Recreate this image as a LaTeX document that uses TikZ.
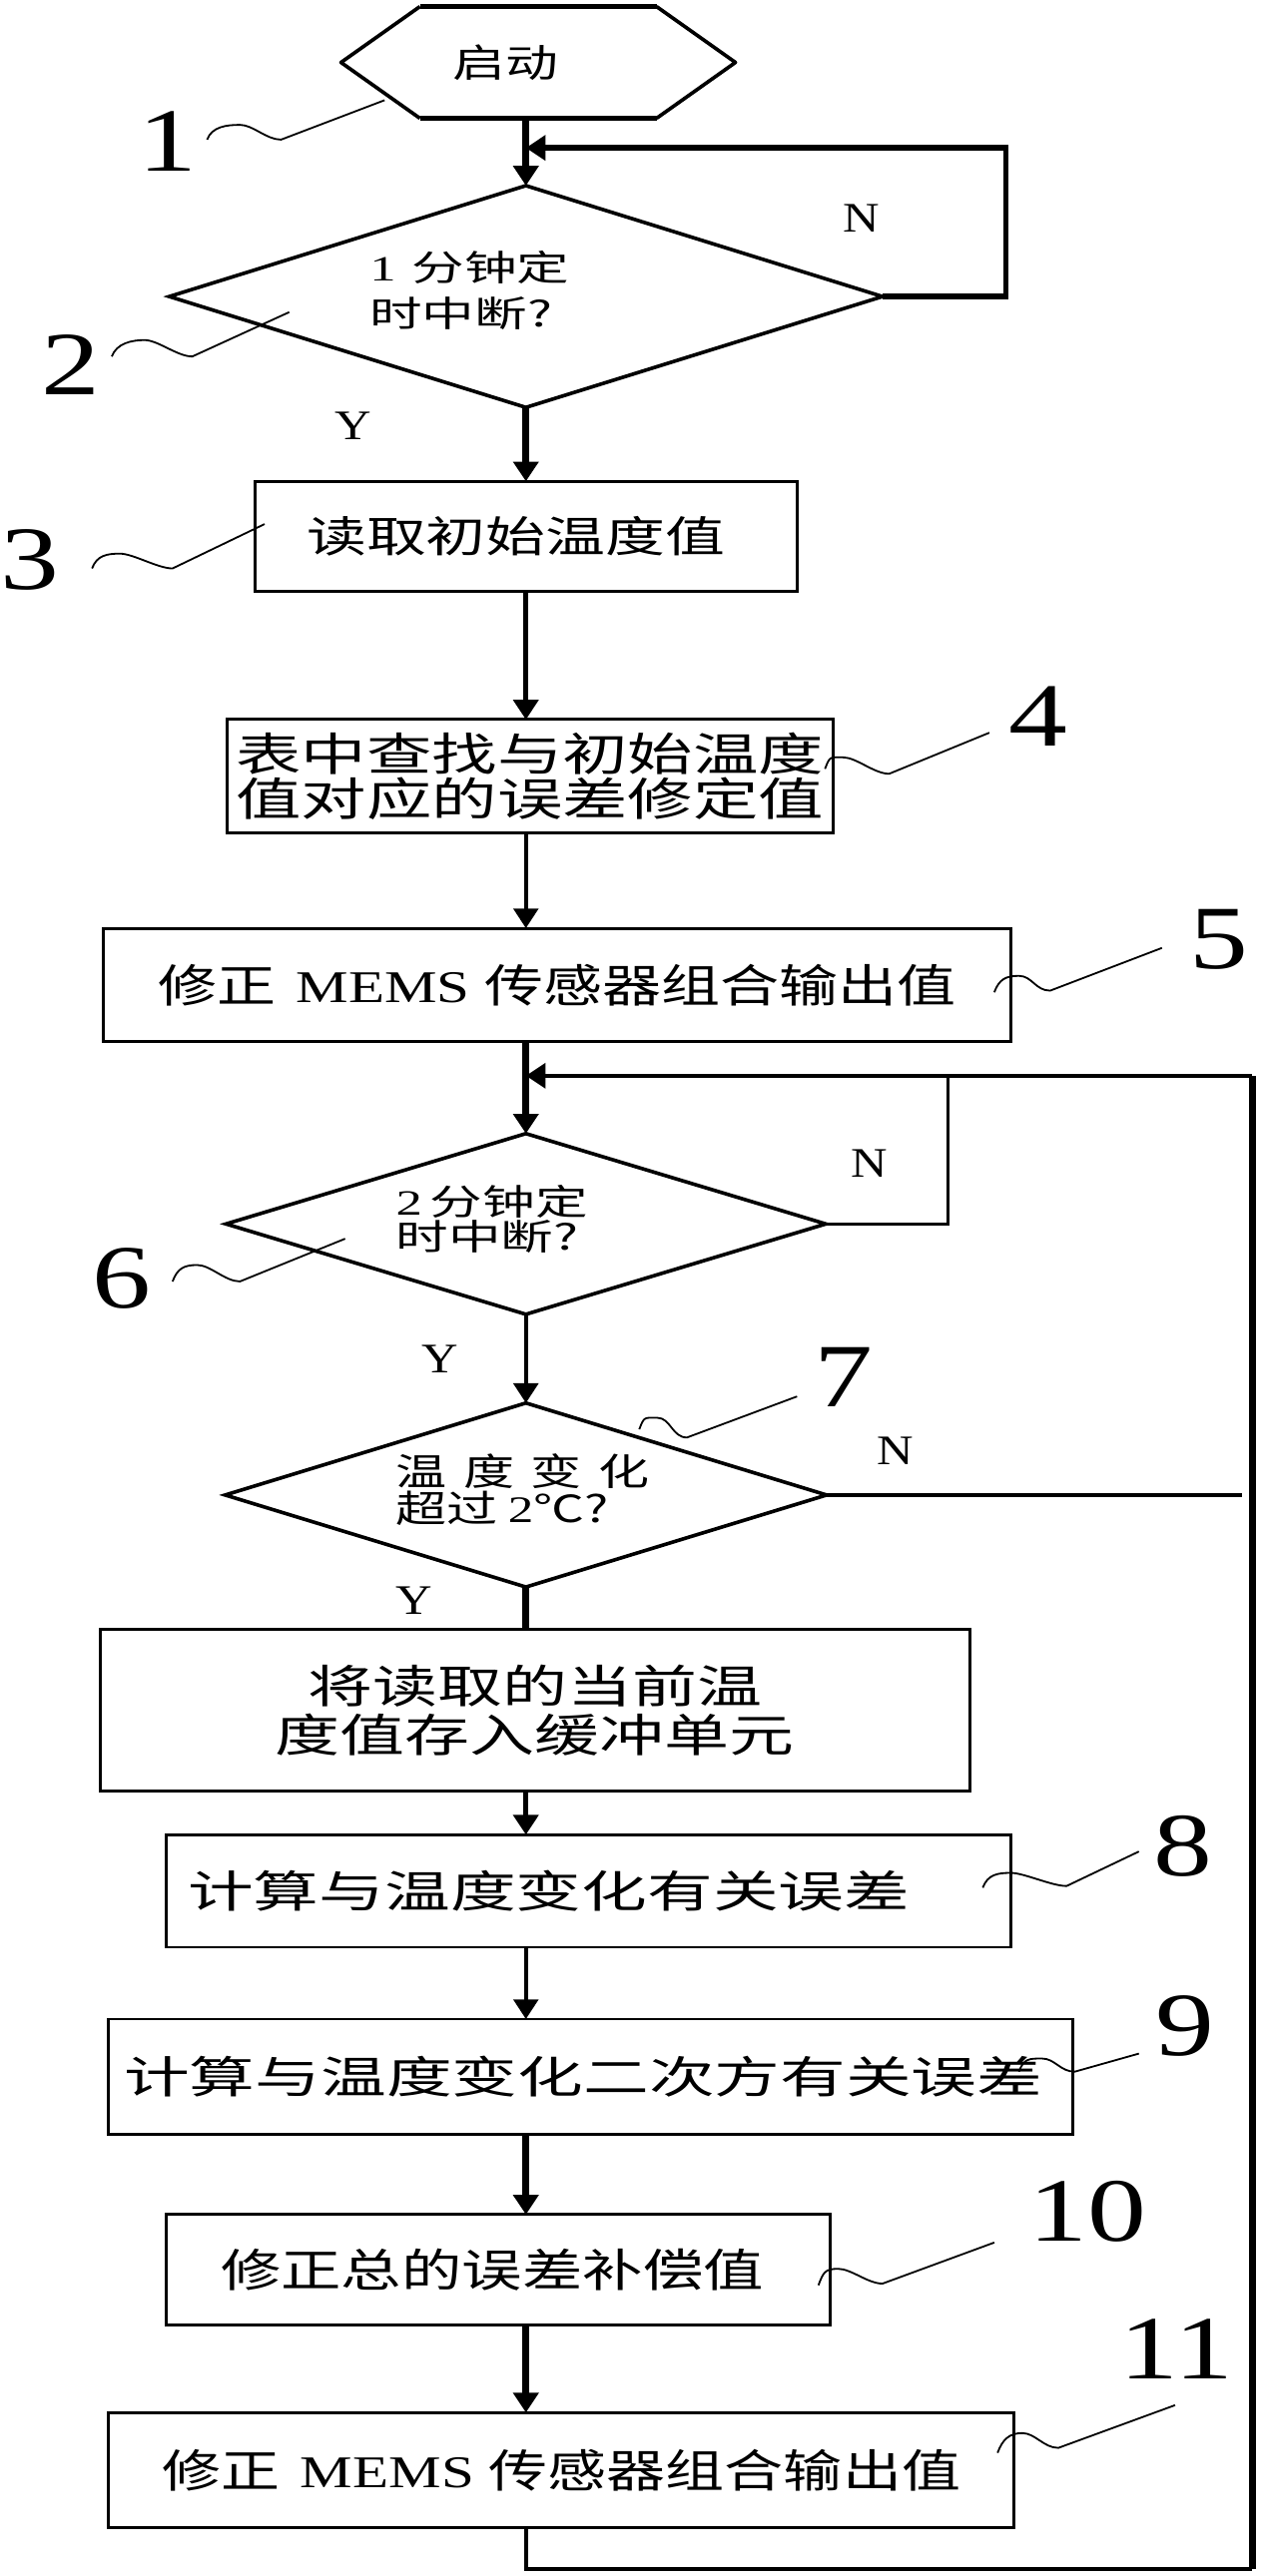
\documentclass[tikz,border=0pt]{standalone}
\usepackage{graphicx}
\usepackage{fontspec}
\setmainfont{Liberation Serif}
\newfontfamily\cjk{Noto Sans CJK SC}
\usetikzlibrary{arrows.meta,shapes.geometric,calc}
\newcommand\W[2]{\scalebox{#1}[1]{#2}}
\newcommand\tightlines{\lineskiplimit=-50pt\relax\lineskip=0pt\relax}
\newcommand\squig[5]{%
  \coordinate (#1a) at (#2);\coordinate (#1b) at (#5);%
  \draw[leader] (#1a) .. controls +(3,-8) and +(-8,0) .. (#3) .. controls +(8,0) and +(-9,0) .. (#4) -- (#1b);}
\begin{document}
\begin{tikzpicture}[x=0.5pt,y=-0.5pt,>={Triangle[length=6pt,width=7.5pt]},
  bx/.style={draw,line width=0.9pt,inner sep=0pt,outer sep=0pt},
  dia/.style={draw,diamond,line width=1.1pt,inner sep=0pt,outer sep=0pt},
  ttl/.style={inner sep=0pt,outer sep=0pt,anchor=west,align=left},
  lbl/.style={font=\rmfamily\fontsize{12.8}{14}\selectfont,inner sep=0pt},
  num/.style={font=\rmfamily\fontsize{27.5}{30}\selectfont,inner sep=0pt},
  leader/.style={line width=0.55pt},
  wA/.style={line width=2.2pt},
  wB/.style={line width=1.4pt},
  wC/.style={line width=1.1pt}]
\useasboundingbox (0,0) rectangle (767,1568);

% column and junctions
\coordinate (col) at (320,0);
\coordinate (j1) at (320,90);
\coordinate (l1) at (612,90);
\coordinate (j2) at (320,654.8);
\coordinate (ur) at (762,654.8);
\coordinate (lr) at (762,1564);
\coordinate (n2c) at (577,654.8);
\coordinate (n3e) at (756,910);

% start hexagon
\node[minimum width=120pt,minimum height=34pt,inner sep=0pt,outer sep=0pt,font=\cjk\fontsize{11.8}{14}\selectfont] (start) at (327.5,38) {\hspace*{-20pt}\W{1.36}{启动}};
\draw[line width=1.1pt,line join=round] ($(start.north west)+(48,0)$) -- (start.west) -- ($(start.south west)+(48,0)$);
\draw[line width=1.1pt,line join=round] ($(start.north east)+(-48,0)$) -- (start.east) -- ($(start.south east)+(-48,0)$);
\draw[line width=1.7pt] ($(start.north west)+(48,0)$) -- ($(start.north east)+(-48,0)$);
\draw[line width=1.7pt] ($(start.south west)+(48,0)$) -- ($(start.south east)+(-48,0)$);

% decisions
\node[dia,minimum width=217pt,minimum height=67.5pt] (d1) at (320,180.5) {};
\node[dia,minimum width=182.5pt,minimum height=55pt] (d2) at (320,745) {};
\node[dia,minimum width=183pt,minimum height=56pt] (d3) at (320,910) {};
\node[ttl,font=\cjk\fontsize{10.8}{14}\selectfont] (d1t) at (225,177) {\W{1.48}{{\rmfamily 1}\hspace{0.3em}分钟定}\\\W{1.48}{时中断?}};
\node[ttl,font=\cjk\fontsize{10.8}{10.6}\selectfont\tightlines] (d2t) at (241,742) {\W{1.48}{{\rmfamily 2}\hspace{0.15em}分钟定}\\\W{1.48}{时中断?}};
\node[ttl,font=\cjk\fontsize{11.4}{11.2}\selectfont\tightlines] (d3t) at (241,906.5) {\W{1.36}{温\hspace{3.7pt}度\hspace{3.7pt}变\hspace{3.7pt}化}\\\W{1.36}{超过\hspace{0.2em}{\rmfamily 2}℃?}};

% process boxes
\node[bx,minimum width=165pt,minimum height=33.5pt,font=\cjk\fontsize{13}{15}\selectfont] (b3) at (320,326.5) {\hspace*{-6pt}\W{1.4}{读取初始温度值}};
\node[bx,align=center,minimum width=184.5pt,minimum height=34.5pt,font=\cjk\fontsize{13.8}{13.9}\selectfont] (b4) at (322.5,472.5) {\W{1.44}{表中查找与初始温度}\\\W{1.44}{值对应的误差修定值}};
\node[bx,minimum width=276pt,minimum height=34.5pt,font=\cjk\fontsize{13.8}{16}\selectfont] (b5) at (339,599.5) {\W{1.3}{修正\hspace{0.35em}{\rmfamily MEMS}\hspace{0.25em}传感器组合输出值}};
\node[bx,align=center,minimum width=264.5pt,minimum height=49pt,font=\cjk\fontsize{13.8}{15}\selectfont] (b6) at (325.5,1041) {\W{1.43}{将读取的当前温}\\\W{1.43}{度值存入缓冲单元}};
\node[bx,minimum width=257pt,minimum height=34.25pt,font=\cjk\fontsize{13.4}{15}\selectfont] (b8) at (358,1151) {\hspace*{-24pt}\W{1.49}{计算与温度变化有关误差}};
\node[bx,minimum width=293.5pt,minimum height=35pt,font=\cjk\fontsize{13.4}{15}\selectfont] (b9) at (359.5,1264) {\hspace*{-4.5pt}\W{1.49}{计算与温度变化二次方有关误差}};
\node[bx,minimum width=202pt,minimum height=33.5pt,font=\cjk\fontsize{13.8}{15}\selectfont] (b10) at (303,1381.5) {\hspace*{-3.5pt}\W{1.33}{修正总的误差补偿值}};
\node[bx,minimum width=275.5pt,minimum height=35pt,font=\cjk\fontsize{13.8}{16}\selectfont] (b11) at (341.5,1503.5) {\W{1.3}{修正\hspace{0.35em}{\rmfamily MEMS}\hspace{0.25em}传感器组合输出值}};

% connectors
\draw[wA,->] (start.south -| col) -- (d1.north);
\draw[line width=1.7pt,->] (d1.east) -| (l1) -- (j1);
\draw[wA,->] (d1.south) -- (b3.north -| col);
\draw[wB,->] (b3.south -| col) -- (b4.north -| col);
\draw[wC,->] (b4.south -| col) -- (b5.north -| col);
\draw[wA,->] (b5.south -| col) -- (d2.north);
\draw[wC,->] (d2.south) -- (d3.north);
\draw[wA] (d3.south) -- (b6.north -| col);
\draw[wB,->] (b6.south -| col) -- (b8.north -| col);
\draw[wC,->] (b8.south -| col) -- (b9.north -| col);
\draw[wA,->] (b9.south -| col) -- (b10.north -| col);
\draw[wA,->] (b10.south -| col) -- (b11.north -| col);
\draw[line width=1.2pt] (b11.south -| col) |- (lr);
\draw[line width=2pt] (lr) -- (ur);
\draw[wB,->] (ur) -- (j2);
\draw[line width=1pt] (d2.east) -| (n2c);
\draw[line width=1pt] (d3.east) -- (n3e);

% Y / N labels
\node[lbl] (N1) at (524,133) {\W{1.2}{N}};
\node[lbl] (Y1) at (215,259) {\W{1.2}{Y}};
\node[lbl] (N2) at (529,708) {\W{1.2}{N}};
\node[lbl] (Y2) at (268,827) {\W{1.2}{Y}};
\node[lbl] (N3) at (544.7,883) {\W{1.2}{N}};
\node[lbl] (Y3) at (252,974) {\W{1.2}{Y}};

% reference numerals
\node[num] (n1) at (102,86) {\W{1.3}{1}};
\node[num] (n2) at (43,222) {\W{1.3}{2}};
\node[num] (n3) at (18,341) {\W{1.3}{3}};
\node[num] (n4) at (632,436) {\W{1.3}{4}};
\node[num] (n5) at (742,572) {\W{1.3}{5}};
\node[num] (n6) at (74,778) {\W{1.3}{6}};
\node[num] (n7) at (513,838) {\W{1.3}{7}};
\node[num] (n8) at (720,1124) {\W{1.3}{8}};
\node[num] (n9) at (721,1233) {\W{1.3}{9}};
\node[num] (n10) at (662,1346) {\W{1.3}{10}};
\node[num] (n11) at (716,1430) {\W{1.3}{11}};

% leader squiggles
\squig{s1}{126,85}{146,76}{171,85}{234,61}
\squig{s2}{68,217}{88,207}{117,217}{176,190}
\squig{s3}{56,346}{73,337}{105,346}{161,319}
\squig{s4}{502,468}{513,461}{541,471}{602,446}
\squig{s5}{605,604}{620,594}{639,603}{707,577}
\squig{s6}{105,780}{120,770}{146,780}{210,754}
\squig{s7}{389,870}{400,863}{418,875}{485,850}
\squig{s8}{598,1149}{615,1140}{649,1148}{693,1127}
\squig{s9}{620,1261}{634,1253}{654,1261}{693,1250}
\squig{s10}{498,1391}{510,1381}{537,1390}{605,1365}
\squig{s11}{607,1493}{622,1481}{644,1490}{715,1464}
\end{tikzpicture}
\end{document}
